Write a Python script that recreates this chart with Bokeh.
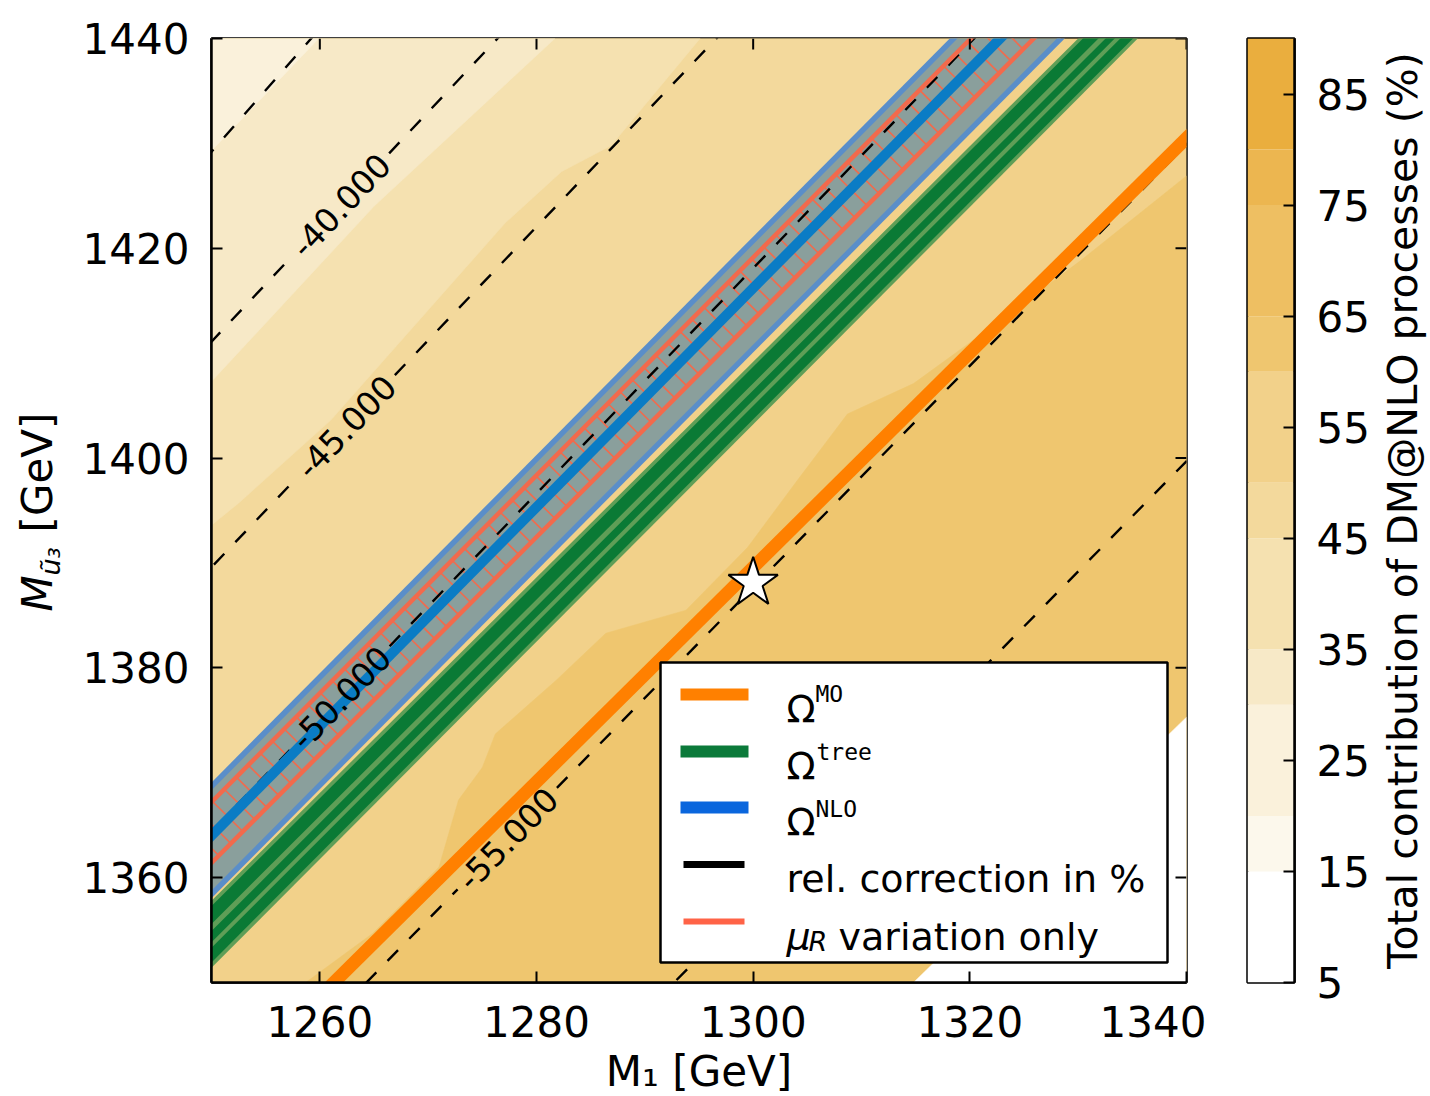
import math
from bisect import bisect_right

import numpy as np
from bokeh.plotting import figure
from bokeh.models import Range1d, FixedTicker, Label
from bokeh.layouts import row
from bokeh.embed import file_html
from bokeh.resources import INLINE
from bokeh.core.properties import value

# ============================ data ============================
x_ticks = [1260, 1280, 1300, 1320, 1340]
y_ticks = [1360, 1380, 1400, 1420, 1440]
m1_range = [1250, 1340]
mu3_range = [1350, 1440]

# colour bar: contour levels (%) and the colour of each band
cbar_ticks = [5, 15, 25, 35, 45, 55, 65, 75, 85]
cbar_levels = [5, 15, 20, 30, 35, 45, 50, 60, 65, 75, 80, 90]
cbar_colors = ["#FFFFFF", "#FCF8EC", "#FAF1DB", "#F7E9C7", "#F5E1B0", "#F3D99C",
               "#F2D18A", "#EFC66F", "#EEBF62", "#ECB650", "#EAAE3E"]

# filled-contour regions of the total DM@NLO contribution (boundary polylines, value inside)
reg_base_val = 55
reg_D_x = [1250.0, 1322.8]
reg_D_y = [1364.0, 1440.0]
reg_D_val = 47
reg_C_x = [1250.0, 1252.5, 1261.0, 1277.1, 1282.3, 1286.9, 1295.1]
reg_C_y = [1393.6, 1395.7, 1403.6, 1422.4, 1427.3, 1429.8, 1440.0]
reg_C_val = 40
reg_B_x = [1250.0, 1265.0, 1281.7]
reg_B_y = [1407.3, 1424.0, 1440.0]
reg_B_val = 32
reg_A_x = [1250.0, 1259.9]
reg_A_y = [1429.3, 1440.0]
reg_A_val = 25
reg_F_x = [1258.7, 1264.9, 1271.0, 1272.8, 1275.0, 1276.2, 1281.8, 1286.4, 1293.8,
           1299.5, 1304.1, 1308.7, 1314.8, 1322.8, 1330.2, 1340.0]
reg_F_y = [1350.0, 1354.7, 1361.0, 1367.4, 1370.5, 1373.7, 1378.8, 1383.3, 1385.5,
           1391.5, 1397.9, 1404.2, 1407.1, 1413.1, 1418.8, 1426.9]
reg_F_val = 62
reg_W_x = [1314.8, 1340.0, 1340.0]
reg_W_y = [1350.0, 1350.0, 1375.3]
reg_W_val = 10

# Omega^MO line
mo_x = [1261.3, 1340.0]
mo_y = [1350.0, 1430.5]

# Omega^tree band edges: M_u3 at M1 = 1250, and M1 at M_u3 = 1440
tree_y_left = [1357.8, 1351.4]
tree_x_top = [1330.0, 1335.5]

# Omega^NLO band: outer upper, muR upper, central, muR lower, outer lower
nlo_y_left = [1368.7, 1367.2, 1364.0, 1361.4, 1358.4]
nlo_x_top = [1318.5, 1320.1, 1322.8, 1325.9, 1328.4]

# relative correction contours (%), dashed
corr_levels = [-35, -40, -45, -50, -55, -60]
corr_x0 = [1250.0, 1250.0, 1250.0, 1250.0, 1264.3, 1292.7]
corr_y0 = [1429.2, 1411.1, 1389.6, 1364.4, 1350.0, 1350.0]
corr_x1 = [1259.2, 1276.4, 1296.6, 1320.4, 1340.0, 1340.0]
corr_y1 = [1440.0, 1440.0, 1440.0, 1440.0, 1429.9, 1399.7]
label_levels = [-40, -45, -50, -55]
label_m1 = [1261.9, 1262.4, 1261.9, 1277.3]

# benchmark point
bench_x = [1300.0]
bench_y = [1388.1]

# ============================ styling / helpers ============================
X0, X1 = m1_range
Y0, Y1 = mu3_range
FRAME_W, FRAME_H = 975, 944
PPX = FRAME_W / (X1 - X0)
PPY = FRAME_H / (Y1 - Y0)
FONT = "DejaVu Sans"
MONO = "DejaVu Sans Mono"

ORANGE = "#FF8000"
GREEN_DARK = "#0A7A35"
GREEN_LIGHT = "#5F9E57"
NLO_FILL = "#8A9F9C"
NLO_EDGE = "#5A8EC9"
NLO_CENTER = "#0A7CC5"
RED = "#F26A4C"

# page layout (pixels): every panel in the row has the same top/bottom borders
PAGE_W, PAGE_H = 1428, 1096
TOP_B = 38
BOT_B = PAGE_H - TOP_B - FRAME_H
YT_W = 70
MAIN_L = 211
MAIN_R_B = 20
CB_L, CB_W, CB_R_B = 1247, 47, 80
CBT_X = CB_L + CB_W + CB_R_B

REF_L, REF_T = MAIN_L, TOP_B


def dx(px):
    return X0 + (px - REF_L) / PPX


def dy(py):
    return Y1 - (py - REF_T) / PPY


def color_for(v):
    return cbar_colors[bisect_right(cbar_levels, v) - 1]


def extend(xa, ya, xb, yb, d=0.08):
    return ([xa - d * (xb - xa), xb + d * (xb - xa)],
            [ya - d * (yb - ya), yb + d * (yb - ya)])


def edge(yl, xt):
    return extend(X0, yl, xt, Y1)


def band(yl_a, xt_a, yl_b, xt_b):
    xa, ya = edge(yl_a, xt_a)
    xb, yb = edge(yl_b, xt_b)
    return xa + xb[::-1], ya + yb[::-1]


def mix(a, b, f):
    return a + f * (b - a)


p = figure(frame_width=FRAME_W, frame_height=FRAME_H,
           x_range=Range1d(X0, X1), y_range=Range1d(Y0, Y1),
           output_backend="svg", toolbar_location=None, title=None,
           min_border_left=MAIN_L - YT_W, min_border_right=MAIN_R_B,
           min_border_top=TOP_B, min_border_bottom=BOT_B,
           background_fill_color="white", border_fill_color="white")
p.grid.visible = False
p.outline_line_color = "black"
p.outline_line_width = 2.5


def style_axis(ax, ticks, standoff):
    ax.ticker = FixedTicker(ticks=ticks)
    ax.major_tick_in = 11
    ax.major_tick_out = 0
    ax.minor_tick_line_color = None
    ax.major_tick_line_width = 2
    ax.major_tick_line_color = "black"
    ax.axis_line_width = 2.5
    ax.axis_line_color = "black"
    ax.major_label_text_font = FONT
    ax.major_label_text_color = "black"
    ax.major_label_text_font_size = "42px"
    ax.major_label_standoff = standoff
    ax.axis_label = None


style_axis(p.xaxis[0], x_ticks, 23)
style_axis(p.yaxis[0], y_ticks, 22)
p.xaxis[0].axis_label = "M₁ [GeV]"
p.xaxis[0].axis_label_text_font = FONT
p.xaxis[0].axis_label_text_font_size = "42px"
p.xaxis[0].axis_label_text_font_style = "normal"
p.xaxis[0].axis_label_text_color = "black"
p.xaxis[0].axis_label_standoff = 7

# ---------- filled contour background ----------
reg_xs = [[X0, X1, X1, X0]]
reg_ys = [[Y0, Y0, Y1, Y1]]
reg_vals = [reg_base_val]
for bx, by, v in [(reg_D_x, reg_D_y, reg_D_val), (reg_C_x, reg_C_y, reg_C_val),
                  (reg_B_x, reg_B_y, reg_B_val), (reg_A_x, reg_A_y, reg_A_val)]:
    reg_xs.append(list(bx) + [X0])
    reg_ys.append(list(by) + [Y1])
    reg_vals.append(v)
reg_xs.append(list(reg_F_x) + [X1])
reg_ys.append(list(reg_F_y) + [Y0])
reg_vals.append(reg_F_val)
reg_xs.append(list(reg_W_x))
reg_ys.append(list(reg_W_y))
reg_vals.append(reg_W_val)
reg_cols = [color_for(v) for v in reg_vals]
p.patches(xs=reg_xs, ys=reg_ys, fill_color=reg_cols, line_color=reg_cols, line_width=0.5)

# ---------- Omega^tree band ----------
gx, gy = band(tree_y_left[0], tree_x_top[0], tree_y_left[1], tree_x_top[1])
p.patch(gx, gy, fill_color=GREEN_LIGHT, line_color=None)


def tree_frac(f):
    return (mix(tree_y_left[0], tree_y_left[1], f), mix(tree_x_top[0], tree_x_top[1], f))


ix, iy = band(*tree_frac(0.08), *tree_frac(0.92))
p.patch(ix, iy, fill_color=GREEN_DARK, line_color=None)
for f, w in [(0.40, 5), (0.66, 4)]:
    ex, ey = edge(*tree_frac(f))
    p.line(ex, ey, line_color=GREEN_LIGHT, line_width=w)

# ---------- Omega^NLO band ----------
nx, ny = band(nlo_y_left[0], nlo_x_top[0], nlo_y_left[4], nlo_x_top[4])
p.patch(nx, ny, fill_color=NLO_FILL, line_color=None)


# hatch rungs between the two muR lines, perpendicular to the band (screen space)
def scr(x, y):
    return np.array([(x - X0) * PPX, (y - Y0) * PPY])


def intersect(c, n, a, b):
    d = b - a
    m = np.array([[n[0], -d[0]], [n[1], -d[1]]])
    t, _ = np.linalg.solve(m, a - c)
    return c + t * n


ca, cb_ = scr(X0, nlo_y_left[2]), scr(nlo_x_top[2], Y1)
dvec = (cb_ - ca) / np.linalg.norm(cb_ - ca)
nvec = np.array([-dvec[1], dvec[0]])
ua, ub = scr(X0, nlo_y_left[1]), scr(nlo_x_top[1], Y1)
la, lb = scr(X0, nlo_y_left[3]), scr(nlo_x_top[3], Y1)
length = np.linalg.norm(cb_ - ca)
rx0, ry0, rx1, ry1 = [], [], [], []
for s in np.arange(-60.0, length + 60.0, 17.0):
    c = ca + s * dvec
    pu = intersect(c, nvec, ua, ub)
    pl = intersect(c, nvec, la, lb)
    rx0.append(X0 + pu[0] / PPX)
    ry0.append(Y0 + pu[1] / PPY)
    rx1.append(X0 + pl[0] / PPX)
    ry1.append(Y0 + pl[1] / PPY)
p.segment(x0=rx0, y0=ry0, x1=rx1, y1=ry1, line_color=RED, line_width=1.6)

# ---------- relative-correction contours (dashed) ----------
GAP = 142
dash_xs, dash_ys, contour_labels = [], [], []
for i, lev in enumerate(corr_levels):
    xa, ya, xb, yb = corr_x0[i], corr_y0[i], corr_x1[i], corr_y1[i]
    ts = [-0.08, 1.08]
    if lev in label_levels:
        xl = label_m1[label_levels.index(lev)]
        t = (xl - xa) / (xb - xa)
        L = math.hypot((xb - xa) * PPX, (yb - ya) * PPY)
        g = 0.5 * GAP / L
        ts = [-0.08, t - g, t + g, 1.08]
        ang = math.atan2((yb - ya) * PPY, (xb - xa) * PPX)
        contour_labels.append((mix(xa, xb, t), mix(ya, yb, t), ang, f"{lev:.3f}"))
    for k in range(0, len(ts), 2):
        t0, t1 = ts[k], ts[k + 1]
        dash_xs.append([mix(xa, xb, t0), mix(xa, xb, t1)])
        dash_ys.append([mix(ya, yb, t0), mix(ya, yb, t1)])
p.multi_line(xs=dash_xs, ys=dash_ys, line_color="black", line_width=2.4, line_dash="15 16")

# NLO lines
for k, col, w in [(1, RED, 4.5), (3, RED, 4.5), (2, NLO_CENTER, 10), (0, NLO_EDGE, 5.5), (4, NLO_EDGE, 5.5)]:
    ex, ey = edge(nlo_y_left[k], nlo_x_top[k])
    p.line(ex, ey, line_color=col, line_width=w)

# Omega^MO
ox, oy = extend(mo_x[0], mo_y[0], mo_x[1], mo_y[1])
p.line(ox, oy, line_color=ORANGE, line_width=13)

# benchmark star
p.scatter(x=bench_x, y=bench_y, marker="star", size=52, fill_color="white",
          line_color="black", line_width=2)

# ticks on top and right frame edges (inward)
TICK = 11
p.segment(x0=x_ticks, y0=[Y1] * len(x_ticks), x1=x_ticks, y1=[Y1 - TICK / PPY] * len(x_ticks),
          line_color="black", line_width=2)
p.segment(x0=[X1] * len(y_ticks), y0=y_ticks, x1=[X1 - TICK / PPX] * len(y_ticks), y1=y_ticks,
          line_color="black", line_width=2)

for (lx, ly, ang, txt_) in contour_labels:
    p.add_layout(Label(x=lx, y=ly, text=txt_, angle=ang, text_align="center",
                       text_baseline="middle", text_font=FONT, text_font_size="33px",
                       text_color="black"))

# ---------- legend (drawn by hand for mixed fonts) ----------
LEG_L, LEG_R, LEG_T, LEG_B = 660, 1167, 662, 962
p.quad(left=[dx(LEG_L)], right=[dx(LEG_R)], top=[dy(LEG_T)], bottom=[dy(LEG_B)],
       fill_color="white", line_color="black", line_width=2.5)
legend_rows = [(694, ORANGE, 12, 680, 748), (751, "#0B7A3A", 12, 680, 748),
               (807, "#0A66DD", 12, 680, 748), (864, "black", 7, 683, 744),
               (921, "#FF6347", 6, 683, 744)]
for py, col, w, x0, x1 in legend_rows:
    p.segment(x0=[dx(x0)], y0=[dy(py)], x1=[dx(x1)], y1=[dy(py)], line_color=col, line_width=w)


def lbl(x, y, s, size, font=FONT, style="normal"):
    p.add_layout(Label(x=x, y=y, text=s, text_font=font, text_font_size=size,
                       text_font_style=style, text_color="black",
                       text_align="left", text_baseline="alphabetic"))


lbl(dx(786), dy(708), "Ω", "38px")
lbl(dx(815), dy(693), "MO", "23px", font=MONO)
lbl(dx(786), dy(765), "Ω", "38px")
lbl(dx(816), dy(751), "tree", "23px", font=MONO)
lbl(dx(786), dy(821), "Ω", "38px")
lbl(dx(815), dy(808), "NLO", "23px", font=MONO)
lbl(dx(786), dy(878), "rel. correction in %", "38px")
lbl(dx(786), dy(935), "μ", "38px", style="italic")
lbl(dx(808), dy(941), "R", "27px", style="italic")
lbl(dx(838), dy(936), "variation only", "38px")


# ============================ title strips (text in page pixels) ============================
def strip(x_left, width):
    # frame covers page pixels [x_left, x_left+width] x [TOP_B, TOP_B+FRAME_H]
    f = figure(frame_width=width, frame_height=FRAME_H,
               x_range=Range1d(x_left, x_left + width),
               y_range=Range1d(TOP_B + FRAME_H, TOP_B),
               min_border_left=0, min_border_right=0,
               min_border_top=TOP_B, min_border_bottom=BOT_B,
               toolbar_location=None, output_backend="svg", title=None,
               x_axis_location=None, y_axis_location=None,
               background_fill_color="white", border_fill_color="white")
    f.outline_line_color = None
    f.grid.visible = False
    return f


def stext(f, x, y, s, size, style="normal", angle=0.0):
    f.text(x=[x], y=[y], text=[s], text_font=value(FONT), text_font_size=value(size),
           text_font_style=value(style), text_color="black", angle=angle,
           text_align=value("center"), text_baseline=value("middle"))


half_pi = math.pi / 2

# y-axis title (centres of the rotated pieces)
yt = strip(0, YT_W)
stext(yt, 37, 593, "M", "42px", style="italic", angle=half_pi)
stext(yt, 50, 561, "ũ₃", "27px", style="italic", angle=half_pi)
stext(yt, 37, 472, "[GeV]", "42px", angle=half_pi)

# colour-bar title
ct = strip(CBT_X, PAGE_W - CBT_X)
stext(ct, 1402, 510, "Total contribution of DM@NLO processes (%)", "41px", angle=half_pi)

# ============================ colour bar ============================
cb = figure(frame_width=CB_W, frame_height=FRAME_H,
            x_range=Range1d(0, 1), y_range=Range1d(cbar_levels[0], cbar_levels[-1]),
            output_backend="svg", toolbar_location=None, title=None,
            x_axis_location=None, y_axis_location="right",
            min_border_left=CB_L - (MAIN_L + FRAME_W + MAIN_R_B), min_border_right=CB_R_B,
            min_border_top=TOP_B, min_border_bottom=BOT_B,
            background_fill_color="white", border_fill_color="white")
cb.grid.visible = False
cb.outline_line_color = "black"
cb.outline_line_width = 2.5
cb.quad(left=0, right=1, bottom=cbar_levels[:-1], top=cbar_levels[1:],
        fill_color=cbar_colors, line_color=None)
style_axis(cb.yaxis[0], cbar_ticks, 22)

layout = row(yt, p, cb, ct)
open("out.html", "w").write(file_html(layout, INLINE, title="DM@NLO contribution"))
